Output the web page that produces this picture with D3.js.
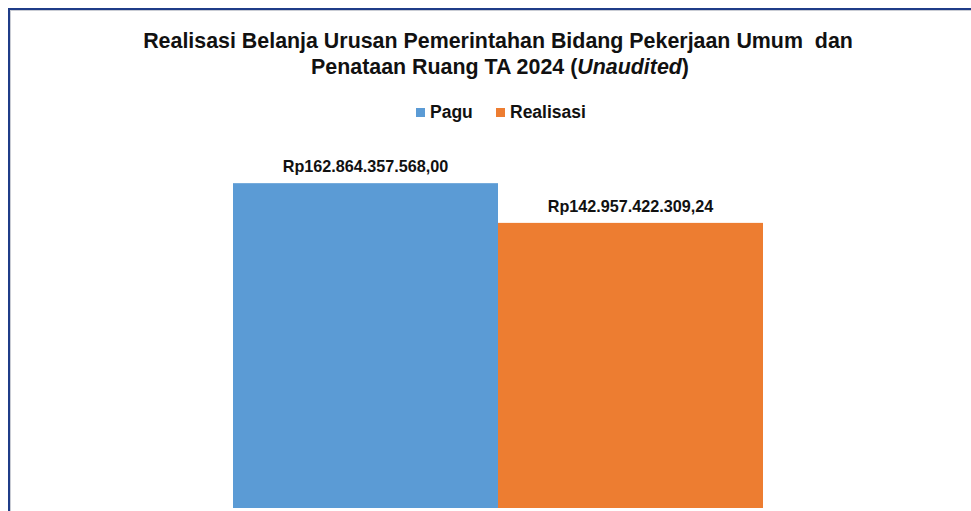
<!DOCTYPE html>
<html>
<head>
<meta charset="utf-8">
<script src="https://cdn.jsdelivr.net/npm/d3@7"></script>
<style>
  html, body { margin: 0; padding: 0; background: #fff; }
  svg { display: block; }
  text { white-space: pre; }
</style>
</head>
<body>
<svg id="chart"></svg>
<script>
const categories = ["Pagu", "Realisasi"];
const values = [162864357568.00, 142957422309.24];
const valueLabels = ["Rp162.864.357.568,00", "Rp142.957.422.309,24"];
const colors = ["#5b9bd5", "#ed7d31"];
const titleLines = ["Realisasi Belanja Urusan Pemerintahan Bidang Pekerjaan Umum  dan", "Penataan Ruang TA 2024 "];

const width = 971, height = 511;
const margin = {top: 149, right: 208, bottom: 3, left: 233};

const svg = d3.select("#chart")
    .attr("width", width)
    .attr("height", height)
    .style("font-family", "'Liberation Sans', Arial, sans-serif");

// frame
svg.append("rect")
   .attr("x", 9).attr("y", 9)
   .attr("width", width + 20).attr("height", height + 20)
   .attr("fill", "none")
   .attr("stroke", "#1f3c88")
   .attr("stroke-width", 2);
svg.append("rect")
   .attr("x", 10.5).attr("y", 10.5)
   .attr("width", width + 20).attr("height", height + 20)
   .attr("fill", "none")
   .attr("stroke", "#c9ccd4")
   .attr("stroke-width", 1);

// title
const title = svg.append("text")
   .attr("text-anchor", "middle")
   .attr("font-weight", "bold")
   .attr("font-size", 21.4)
   .attr("fill", "#111");
title.append("tspan").attr("x", 498).attr("y", 48).text(titleLines[0]);
title.append("tspan").attr("x", 500).attr("y", 74).text(titleLines[1]);
title.append("tspan").text("(");
title.append("tspan").attr("font-style", "italic").text("Unaudited");
title.append("tspan").text(")");

// legend
const legendX = [416, 496];
const legend = svg.selectAll(".legend")
   .data(categories)
   .enter()
   .append("g")
   .attr("class", "legend")
   .attr("transform", (d, i) => `translate(${legendX[i]},108)`);
legend.append("rect")
   .attr("width", 9).attr("height", 9)
   .attr("fill", (d, i) => colors[i]);
legend.append("text")
   .attr("x", 14).attr("y", 9.5)
   .attr("font-size", 17.5)
   .attr("font-weight", "bold")
   .attr("fill", "#111")
   .text(d => d);

const x = d3.scaleBand()
    .domain(categories)
    .range([margin.left, width - margin.right])
    .padding(0);

const y = d3.scaleLinear()
    .domain([0, 180e9])
    .range([height - margin.bottom, margin.top]);

svg.selectAll(".bar")
   .data(values)
   .enter()
   .append("rect")
   .attr("class", "bar")
   .attr("x", (d, i) => x(categories[i]))
   .attr("y", d => y(d))
   .attr("width", x.bandwidth())
   .attr("height", d => y(0) - y(d))
   .attr("fill", (d, i) => colors[i]);

svg.selectAll(".label")
   .data(values)
   .enter()
   .append("text")
   .attr("class", "label")
   .attr("x", (d, i) => x(categories[i]) + x.bandwidth() / 2)
   .attr("y", d => y(d) - 11)
   .attr("text-anchor", "middle")
   .attr("font-size", 16.2)
   .attr("font-weight", "bold")
   .attr("fill", "#111")
   .text((d, i) => valueLabels[i]);
</script>
</body>
</html>
